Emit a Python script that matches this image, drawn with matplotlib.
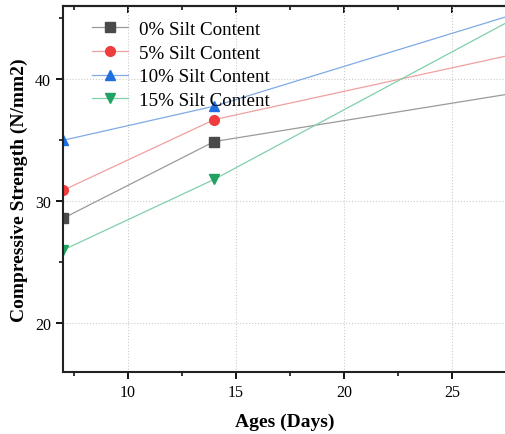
import matplotlib
matplotlib.use('Agg')
import matplotlib.pyplot as plt
from matplotlib.ticker import MultipleLocator

plt.rcParams['font.family'] = ['Liberation Serif', 'DejaVu Serif']

days = [7, 14, 28]                      # возраст образцов, сутки
labels = ['0% Silt Content', '5% Silt Content', '10% Silt Content', '15% Silt Content']
s0 = [28.6, 34.9, 38.9]
s5 = [30.9, 36.7, 42.1]
s10 = [35.0, 37.8, 45.4]
s15 = [26.0, 31.8, 45.1]

series = [s0, s5, s10, s15]
markers = ['s', 'o', '^', 'v']
mcolors = ['#4a4a4a', '#f03c3c', '#1f6fe0', '#21a262']
lcolors = ['#9a9a9a', '#f0a0a0', '#80aae6', '#80d0a8']

fig = plt.figure(figsize=(5.06, 4.35), dpi=100)
ax = fig.add_axes([0.1245, 0.1425, 0.8755, 0.841])

for y, lab, m, mc, lc in zip(series, labels, markers, mcolors, lcolors):
    ax.plot(days, y, color=lc, lw=0.9, marker=m, markersize=7,
            markerfacecolor=mc, markeredgecolor=mc, label=lab)

ax.set_xlim(7, 27.5)
ax.set_ylim(16, 46)
ax.xaxis.set_major_locator(MultipleLocator(5))
ax.xaxis.set_minor_locator(MultipleLocator(2.5))
ax.yaxis.set_major_locator(MultipleLocator(10))
ax.yaxis.set_minor_locator(MultipleLocator(5))

ax.grid(True, which='major', ls=':', color='#cccccc', lw=0.8)
ax.tick_params(axis='both', which='both', direction='out', labelsize=11.5)
ax.tick_params(axis='both', which='major', length=5, width=1.3)
ax.tick_params(axis='both', which='minor', length=3, width=1.1)

# верхние засечки внутрь
top = ax.secondary_xaxis('top')
top.xaxis.set_major_locator(MultipleLocator(5))
top.xaxis.set_minor_locator(MultipleLocator(2.5))
top.tick_params(which='both', direction='in', labeltop=False)
top.tick_params(which='major', length=5, width=1.3)
top.tick_params(which='minor', length=3, width=1.1)
top.spines['top'].set_linewidth(1.5)
top.spines['top'].set_color('#222222')

for s in ['left', 'bottom', 'top']:
    ax.spines[s].set_linewidth(1.5)
    ax.spines[s].set_color('#222222')
ax.spines['right'].set_visible(False)

ax.set_xlabel('Ages (Days)', fontsize=14, fontweight='bold', labelpad=9)
ax.set_ylabel('Compressive Strength (N/mm2)', fontsize=14, fontweight='bold', labelpad=5)

ax.legend(loc='upper left', bbox_to_anchor=(0.065, 0.96), frameon=False, fontsize=13.7,
          handlelength=1.9, handletextpad=0.6, labelspacing=0.33, borderaxespad=0,
          borderpad=0, markerscale=1.0)

plt.savefig('out.png', dpi=100)
